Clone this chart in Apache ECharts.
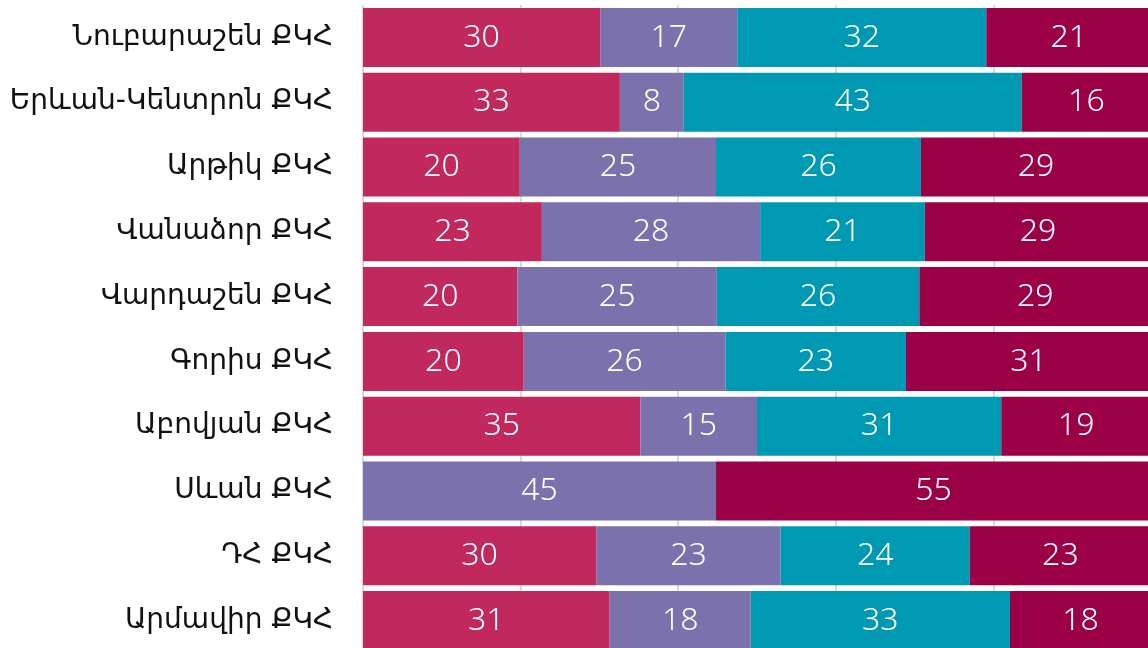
<!DOCTYPE html>
<html>
<head>
<meta charset="utf-8">
<script src="https://cdn.jsdelivr.net/npm/echarts@6/dist/echarts.min.js"></script>
<style>
html,body{margin:0;padding:0;background:#fff;}
#chart{width:1148px;height:648px;}
</style>
</head>
<body>
<div id="chart"></div>
<script>
const categories = [
  'Նուբարաշեն ՔԿՀ',
  'Երևան-Կենտրոն ՔԿՀ',
  'Արթիկ ՔԿՀ',
  'Վանաձոր ՔԿՀ',
  'Վարդաշեն ՔԿՀ',
  'Գորիս ՔԿՀ',
  'Աբովյան ՔԿՀ',
  'Սևան ՔԿՀ',
  'ԴՀ ՔԿՀ',
  'Արմավիր ՔԿՀ'
];
const seriesA = [30.1, 32.6, 19.9, 22.7, 19.6, 20.4, 35.2, 0, 29.6, 31.3];
const seriesB = [17.4, 8.1, 24.9, 27.7, 25.3, 25.6, 14.8, 44.8, 23.4, 17.9];
const seriesC = [31.6, 42.9, 26.0, 20.9, 25.7, 22.9, 31.0, 0, 24.0, 32.9];
const seriesD = [20.9, 16.4, 29.2, 28.7, 29.4, 31.1, 19.0, 55.2, 23.0, 17.9];
const colors = ['#C1285E', '#7B71AD', '#0099B4', '#9B0047'];

const chart = echarts.init(document.getElementById('chart'), null, {renderer: 'canvas'});
function mk(name, data, color) {
  return {
    name: name,
    type: 'bar',
    stack: 'total',
    data: data,
    barWidth: 59,
    itemStyle: {color: color},
    label: {
      show: true,
      position: 'inside',
      color: '#ffffff',
      fontFamily: '"Noto Sans", "Open Sans", sans-serif',
      fontWeight: 300,
      fontSize: 32,
      formatter: p => p.value > 0 ? String(Math.round(p.value)) : ''
    },
    emphasis: {disabled: true}
  };
}
chart.setOption({
  animation: false,
  backgroundColor: '#ffffff',
  grid: {left: 363, width: 788, top: 5, height: 648, containLabel: false, outerBoundsMode: 'none'},
  xAxis: {
    type: 'value', min: 0, max: 100, interval: 20,
    axisLabel: {show: false}, axisLine: {show: false}, axisTick: {show: false},
    splitLine: {show: true, lineStyle: {color: '#cccccc', width: 1.5}}
  },
  yAxis: {
    type: 'category', inverse: true, data: categories,
    axisLine: {show: false}, axisTick: {show: false},
    axisLabel: {
      color: '#111111', fontSize: 28, margin: 30,
      fontFamily: '"DejaVu Sans", sans-serif'
    }
  },
  series: [
    mk('A', seriesA, colors[0]),
    mk('B', seriesB, colors[1]),
    mk('C', seriesC, colors[2]),
    mk('D', seriesD, colors[3])
  ]
});
</script>
</body>
</html>
